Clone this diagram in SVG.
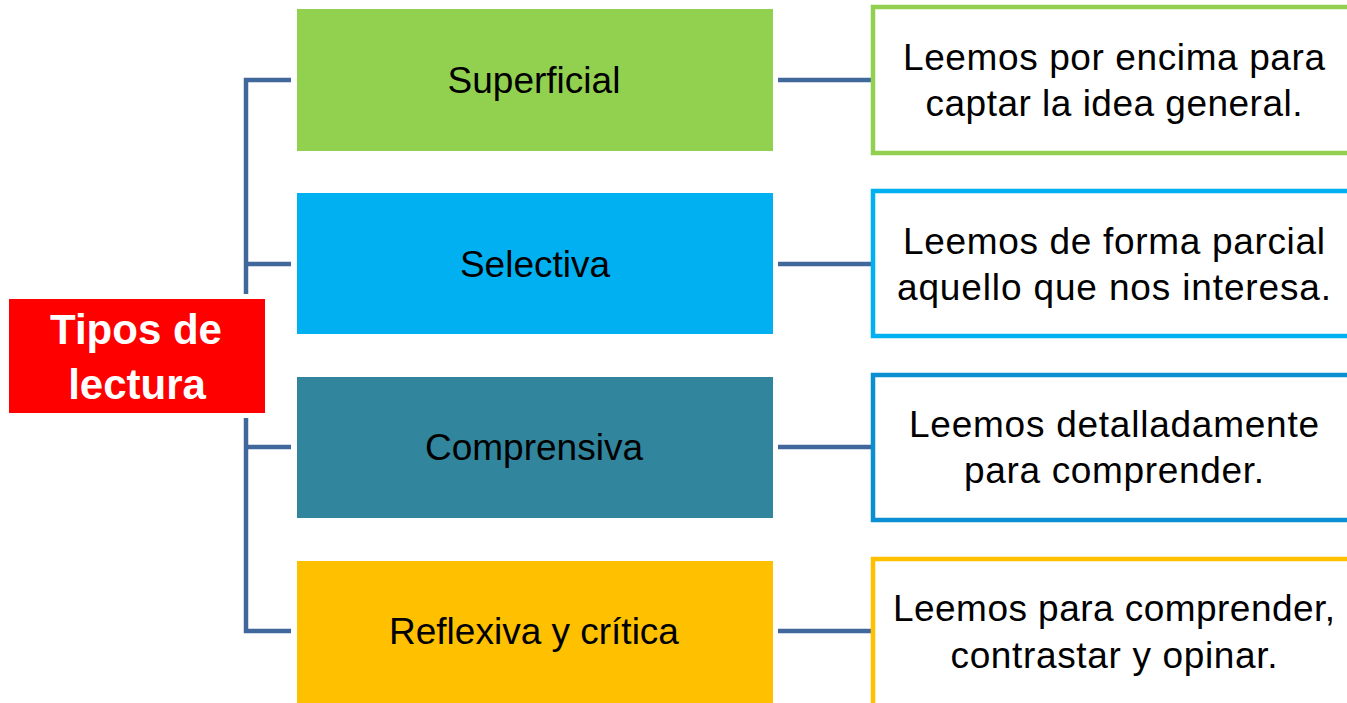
<svg xmlns="http://www.w3.org/2000/svg" width="1347" height="703" viewBox="0 0 1347 703">
<style>
.conn{stroke:#41689C;stroke-width:4.5;fill:none;stroke-linecap:butt}
.lbl{font-family:"Liberation Sans",Arial,sans-serif;font-size:37px;fill:#000;text-anchor:middle}
.desc{font-family:"Liberation Sans",Arial,sans-serif;font-size:37px;fill:#000;text-anchor:middle}
.title{font-family:"Liberation Sans",Arial,sans-serif;font-size:42px;font-weight:bold;fill:#fff;text-anchor:middle}
.dbox{fill:#fff;stroke-width:4.5}
</style>
<rect width="1347" height="703" fill="#fff"/>
<g id="connectors">
<path class="conn" d="M291,80 H246 V631 H291"/>
<path class="conn" d="M246,264 H291"/>
<path class="conn" d="M246,447 H291"/>
<path class="conn" d="M778,80 H871"/>
<path class="conn" d="M778,264 H871"/>
<path class="conn" d="M778,447 H871"/>
<path class="conn" d="M778,631 H871"/>
</g>
<g id="root">
<rect x="9" y="299" width="256" height="114" fill="#FF0000" stroke="#fff" stroke-width="10" paint-order="stroke"/>
<text class="title" x="136" y="344">Tipos de</text>
<text class="title" x="137" y="399">lectura</text>
</g>
<g id="superficial">
<rect x="297" y="9" width="476" height="142" fill="#92D050"/>
<text class="lbl" x="534" y="93">Superficial</text>
</g>
<g id="selectiva">
<rect x="297" y="193" width="476" height="141" fill="#00B0F0"/>
<text class="lbl" x="535" y="277">Selectiva</text>
</g>
<g id="comprensiva">
<rect x="297" y="377" width="476" height="141" fill="#31859C"/>
<text class="lbl" x="534" y="460">Comprensiva</text>
</g>
<g id="reflexiva">
<rect x="297" y="561" width="476" height="142" fill="#FFC000"/>
<text class="lbl" x="534" y="644">Reflexiva y crítica</text>
</g>
<g id="desc-superficial">
<rect class="dbox" x="873" y="7" width="484" height="146" stroke="#92D050"/>
<text class="desc" x="1114" y="70" textLength="422" lengthAdjust="spacing">Leemos por encima para</text>
<text class="desc" x="1114" y="116" textLength="377" lengthAdjust="spacing">captar la idea general.</text>
</g>
<g id="desc-selectiva">
<rect class="dbox" x="873" y="191" width="484" height="145" stroke="#00B0F0"/>
<text class="desc" x="1114" y="254" textLength="422" lengthAdjust="spacing">Leemos de forma parcial</text>
<text class="desc" x="1114" y="300" textLength="434" lengthAdjust="spacing">aquello que nos interesa.</text>
</g>
<g id="desc-comprensiva">
<rect class="dbox" x="873" y="375" width="484" height="145" stroke="#0B8FD3"/>
<text class="desc" x="1114" y="437" textLength="410" lengthAdjust="spacing">Leemos detalladamente</text>
<text class="desc" x="1114" y="483" textLength="300" lengthAdjust="spacing">para comprender.</text>
</g>
<g id="desc-reflexiva">
<rect class="dbox" x="873" y="559" width="484" height="160" stroke="#FFC000"/>
<text class="desc" x="1114" y="621" textLength="442" lengthAdjust="spacing">Leemos para comprender,</text>
<text class="desc" x="1114" y="668" textLength="327" lengthAdjust="spacing">contrastar y opinar.</text>
</g>
</svg>
